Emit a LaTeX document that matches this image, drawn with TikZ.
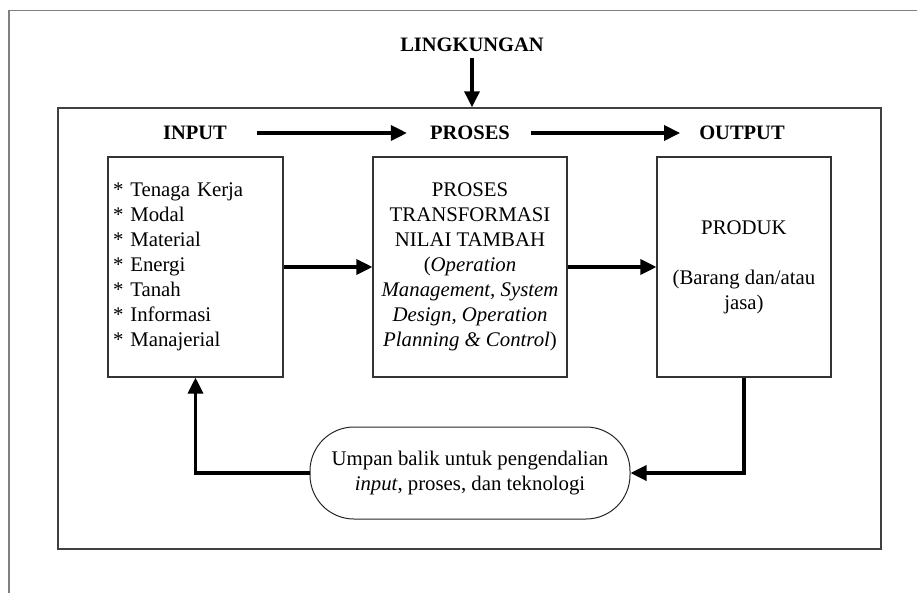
\documentclass[tikz,border=0pt]{standalone}
\usepackage{fontspec}
\setmainfont{Liberation Serif}
\usetikzlibrary{arrows.meta}

\tikzset{
  txt/.style={font=\fontsize{20.8}{25}\selectfont},
  headlabel/.style={txt, font=\fontsize{20.5}{25}\selectfont\bfseries, inner sep=2pt},
  stagebox/.style={txt, draw=black!80, line width=1.1pt, minimum height=220pt, align=center, inner sep=0pt},
  arr/.style={line width=3.4pt, -{Triangle[length=16pt,width=15pt]}},
  envbox/.style={draw=black!75, line width=1.4pt},
  frameline/.style={draw=black!50, line width=1.8pt}
}
\newcommand{\itembullet}{{*}~}

\begin{document}
\begin{tikzpicture}[x=1pt, y=-1pt]
  \useasboundingbox (0,0) rectangle (917,593);

  % page frame (open to the right and bottom)
  \draw[frameline] (9,593) -- (9,10.5) -- (917,10.5);

  % system boundary
  \node[envbox, minimum width=823pt, minimum height=441pt] (env) at (469.5,328.5) {};

  % environment
  \node[headlabel] (ling) at (472,45) {LINGKUNGAN};
  \draw[arr, shorten <=4pt] (ling.south) -- (ling.south |- env.north);

  % stage headings
  \node[headlabel] (hin)  at (195,133) {INPUT};
  \node[headlabel] (hpro) at (470,133) {PROSES};
  \node[headlabel] (hout) at (742,133) {OUTPUT};
  \draw[arr, shorten <=28pt, shorten >=21pt] (hin.east) -- (hpro.west);
  \draw[arr, shorten <=19pt, shorten >=17pt] (hpro.east) -- (hout.west);

  % stage boxes
  \node[stagebox, minimum width=175pt, text width=165pt, align=left, inner xsep=5pt] (inp) at (195.5,267) {%
    \itembullet Tenaga Kerja\\
    \itembullet Modal\\
    \itembullet Material\\
    \itembullet Energi\\
    \itembullet Tanah\\
    \itembullet Informasi\\
    \itembullet Manajerial};
  \node[stagebox, minimum width=194pt] (proc) at (470,267) {%
    PROSES\\
    TRANSFORMASI\\
    NILAI TAMBAH\\
    (\textit{Operation}\\
    \textit{Management, System}\\
    \textit{Design, Operation}\\
    \textit{Planning \& Control})};
  \node[stagebox, minimum width=174pt] (prod) at (744,267) {%
    PRODUK\\[25pt]
    (Barang dan/atau\\
    jasa)};

  \draw[arr] (inp.east) -- (proc.west);
  \draw[arr] (proc.east) -- (prod.west);

  % feedback loop
  \node[txt, draw=black!85, line width=1pt, rounded corners=44pt, minimum width=320pt, minimum height=92pt, align=center, inner sep=0pt] (fb) at (470,473) {%
    Umpan balik untuk pengendalian\\
    \textit{input}, proses, dan teknologi};

  \draw[arr] (prod.south) |- (fb.east);
  \draw[arr] (fb.west) -| (inp.south);
\end{tikzpicture}
\end{document}
